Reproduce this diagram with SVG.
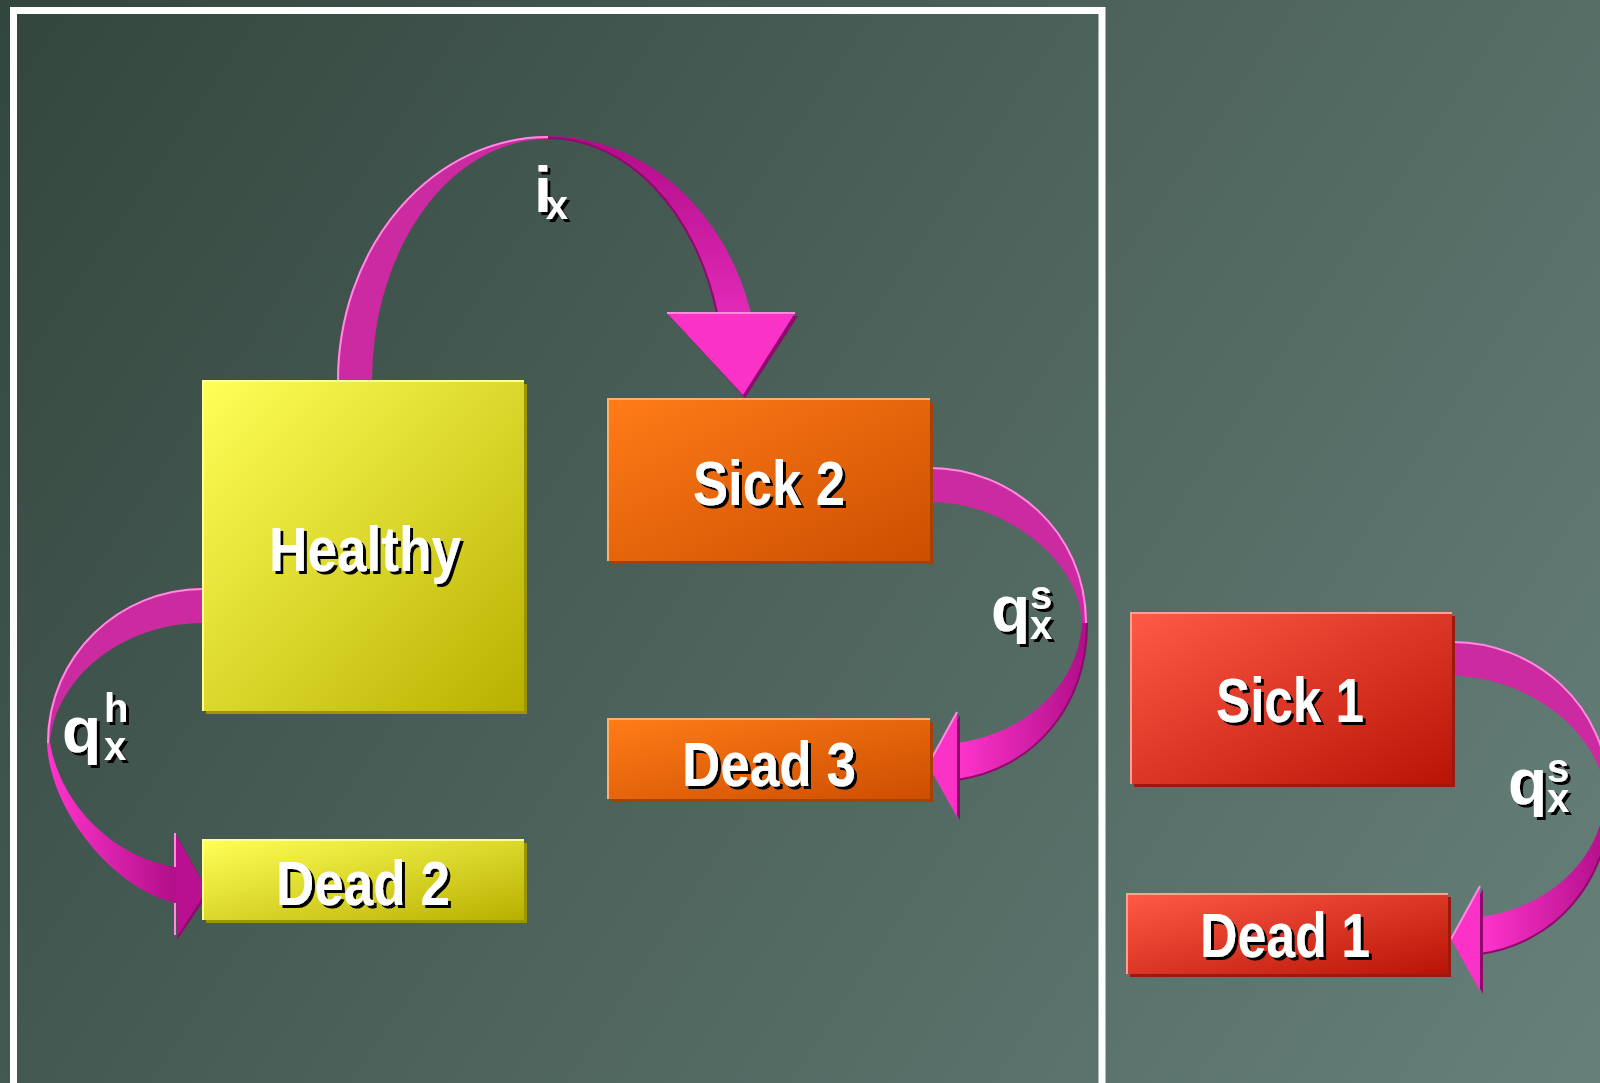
<svg xmlns="http://www.w3.org/2000/svg" width="1600" height="1083" viewBox="0 0 1600 1083">
<defs>
<linearGradient id="bg" x1="0" y1="0" x2="1600" y2="1083" gradientUnits="userSpaceOnUse">
<stop offset="0" stop-color="#33463e"/><stop offset="1" stop-color="#67807a"/>
</linearGradient>
<linearGradient id="gYellow" x1="0" y1="0" x2="1" y2="1">
<stop offset="0" stop-color="#ffff58"/><stop offset="1" stop-color="#b8b000"/>
</linearGradient>
<linearGradient id="gOrange" x1="0" y1="0" x2="1" y2="1">
<stop offset="0" stop-color="#ff7c18"/><stop offset="1" stop-color="#cc4e00"/>
</linearGradient>
<linearGradient id="gRed" x1="0" y1="0" x2="1" y2="1">
<stop offset="0" stop-color="#ff5a46"/><stop offset="1" stop-color="#b81406"/>
</linearGradient>
<linearGradient id="gTopRight" x1="0" y1="136" x2="0" y2="313" gradientUnits="userSpaceOnUse">
<stop offset="0" stop-color="#b00c88"/><stop offset="1" stop-color="#e22ab8"/>
</linearGradient>
<linearGradient id="gLeftLow" x1="47" y1="0" x2="178" y2="0" gradientUnits="userSpaceOnUse">
<stop offset="0" stop-color="#ff34cc"/><stop offset="1" stop-color="#b00e88"/>
</linearGradient>
<linearGradient id="gRightLow" x1="1087" y1="0" x2="957" y2="0" gradientUnits="userSpaceOnUse">
<stop offset="0" stop-color="#b00e88"/><stop offset="1" stop-color="#ff34cc"/>
</linearGradient>
<filter id="ts" x="-10%" y="-10%" width="130%" height="130%">
<feOffset in="SourceAlpha" dx="3" dy="3" result="o"/>
<feFlood flood-color="#000"/><feComposite in2="o" operator="in" result="s"/>
<feMerge><feMergeNode in="s"/><feMergeNode in="SourceGraphic"/></feMerge>
</filter>
<style>
.lbl{font-family:"Liberation Sans",Arial,sans-serif;font-weight:bold;fill:#fff;text-anchor:middle;font-size:63px;filter:url(#ts)}
.sym{font-family:"Liberation Sans",Arial,sans-serif;font-weight:bold;fill:#fff;filter:url(#ts)}
.band{fill:#cc2aa0}
.hl{fill:none;stroke:#ff8ce0;stroke-width:2}
.dk{fill:none;stroke:#8e0a6c;stroke-width:2}
.headsh{fill:#8e0a6c}
</style>
</defs>
<rect x="0" y="0" width="1600" height="1083" fill="url(#bg)"/>
<rect x="13.5" y="10.5" width="1088.5" height="1090" fill="none" stroke="#fff" stroke-width="7"/>

<g id="connectors">
  <g id="c-healthy-sick2">
    <path class="band" d="M337,381 A211,245 0 0 1 548,136 L548,139 A176,242 0 0 0 372,381 Z"/>
    <path class="hl" d="M338,381 A210,244 0 0 1 548,137"/>
    <path d="M548,136 A211,245 0 0 1 751,313 L717,313 A176,242 0 0 0 548,139 Z" fill="url(#gTopRight)"/>
    <path class="dk" d="M548,138 A176,242 0 0 1 717,313"/>
    <path class="headsh" d="M670,316 L798,316 L745,398 Z"/>
    <path d="M667,313 L795,313 L743,395 Z" fill="#fb32c8"/>
    <path class="hl" d="M667,313 L795,313"/>
    <text class="sym" x="534" y="212" font-size="64">i<tspan font-size="40" dx="-6" dy="7">x</tspan></text>
  </g>
  <g id="c-healthy-dead2">
    <path class="band" d="M203,588 C120,588 47,655 47,743 L50,743 C55,680 120,623 203,623 Z"/>
    <path class="hl" d="M203,589 C120,589 48,655 48,743"/>
    <path d="M47,743 C50,815 120,893 177,903 L177,867 C120,860 62,810 50,743 Z" fill="url(#gLeftLow)"/>
    <path class="headsh" d="M177,836 L209,893 L177,940 Z"/>
    <path d="M175,833 L207,890 L177,937 Z" fill="#b81090"/>
    <path class="hl" d="M175,833 L175,867 M175,903 L175,935"/>
    <text class="sym" x="62" y="752" font-size="64">q<tspan font-size="40" dx="3" dy="-30">h</tspan><tspan font-size="40" x="104" dy="38">x</tspan></text>
  </g>
  <g id="c-sick2-dead3">
    <path class="band" d="M930,467 C1010,467 1087,530 1087,623 L1082,623 C1080,560 1005,502 930,502 Z"/>
    <path class="hl" d="M930,468 C1010,468 1086,530 1086,623"/>
    <path d="M1087,623 C1087,710 1030,770 957,780 L957,743 C1020,735 1078,690 1082,623 Z" fill="url(#gRightLow)"/>
    <path class="dk" d="M1087,623 C1087,710 1030,770 957,780"/>
    <path class="headsh" d="M960,715 L931,768 L960,820 Z"/>
    <path d="M957,712 L928,765 L957,817 Z" fill="#fb32c8"/>
    <path class="hl" d="M957,712 L928,765"/>
    <text class="sym" x="991" y="631" font-size="64">q<tspan font-size="40" dy="-22">s</tspan><tspan font-size="40" x="1030" dy="30">x</tspan></text>
  </g>
  <g id="c-sick1-dead1" transform="translate(523,174)">
    <path class="band" d="M930,467 C1010,467 1087,530 1087,623 L1082,623 C1080,560 1005,502 930,502 Z"/>
    <path class="hl" d="M930,468 C1010,468 1086,530 1086,623"/>
    <path d="M1087,623 C1087,710 1030,770 957,780 L957,743 C1020,735 1078,690 1082,623 Z" fill="url(#gRightLow)"/>
    <path class="dk" d="M1087,623 C1087,710 1030,770 957,780"/>
    <path class="headsh" d="M960,715 L931,768 L960,820 Z"/>
    <path d="M957,712 L928,765 L957,817 Z" fill="#fb32c8"/>
    <path class="hl" d="M957,712 L928,765"/>
  </g>
  <g id="c-sick1-dead1-label">
    <text class="sym" x="1508" y="804" font-size="64">q<tspan font-size="40" dy="-22">s</tspan><tspan font-size="40" x="1547" dy="30">x</tspan></text>
  </g>
</g>

<g id="node-healthy">
  <rect x="206" y="384" width="321" height="330" fill="#9c9600"/>
  <rect x="203" y="381" width="321" height="330" fill="url(#gYellow)"/>
  <path d="M203,711 L203,381 L524,381" fill="none" stroke="#ffff9a" stroke-width="2"/>
  <text class="lbl" x="365" y="571" textLength="192" lengthAdjust="spacingAndGlyphs">Healthy</text>
</g>
<g id="node-dead2">
  <rect x="206" y="843" width="321" height="80" fill="#9c9600"/>
  <rect x="203" y="840" width="321" height="80" fill="url(#gYellow)"/>
  <path d="M203,920 L203,840 L524,840" fill="none" stroke="#ffff9a" stroke-width="2"/>
  <text class="lbl" x="363" y="905" textLength="174" lengthAdjust="spacingAndGlyphs">Dead 2</text>
</g>
<g id="node-sick2">
  <rect x="611" y="402" width="322" height="162" fill="#a84000"/>
  <rect x="608" y="399" width="322" height="162" fill="url(#gOrange)"/>
  <path d="M608,561 L608,399 L930,399" fill="none" stroke="#ffb070" stroke-width="2"/>
  <text class="lbl" x="769" y="505" textLength="152" lengthAdjust="spacingAndGlyphs">Sick 2</text>
</g>
<g id="node-dead3">
  <rect x="611" y="722" width="322" height="80" fill="#a84000"/>
  <rect x="608" y="719" width="322" height="80" fill="url(#gOrange)"/>
  <path d="M608,799 L608,719 L930,719" fill="none" stroke="#ffb070" stroke-width="2"/>
  <text class="lbl" x="769" y="786" textLength="174" lengthAdjust="spacingAndGlyphs">Dead 3</text>
</g>
<g id="node-sick1">
  <rect x="1134" y="616" width="321" height="171" fill="#9a1a10"/>
  <rect x="1131" y="613" width="321" height="171" fill="url(#gRed)"/>
  <path d="M1131,784 L1131,613 L1452,613" fill="none" stroke="#ffa090" stroke-width="2"/>
  <text class="lbl" x="1290" y="722" textLength="148" lengthAdjust="spacingAndGlyphs">Sick 1</text>
</g>
<g id="node-dead1">
  <rect x="1130" y="897" width="321" height="80" fill="#9a1a10"/>
  <rect x="1127" y="894" width="321" height="80" fill="url(#gRed)"/>
  <path d="M1127,974 L1127,894 L1448,894" fill="none" stroke="#ffa090" stroke-width="2"/>
  <text class="lbl" x="1285" y="957" textLength="170" lengthAdjust="spacingAndGlyphs">Dead 1</text>
</g>
</svg>
